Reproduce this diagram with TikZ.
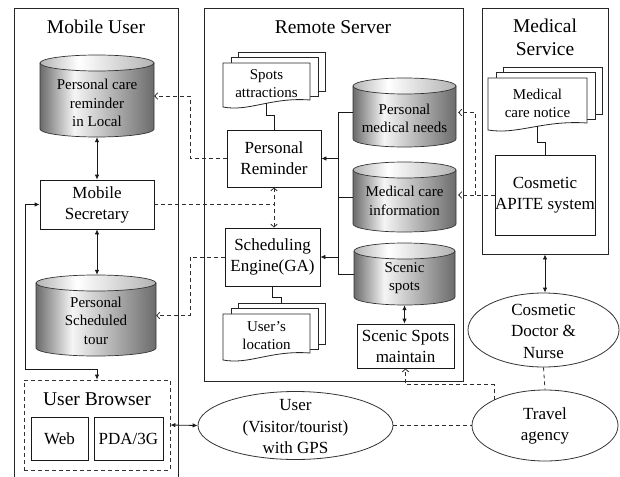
\documentclass[tikz,border=0pt]{standalone}
\usepackage{fontspec}
\setmainfont{Liberation Serif}
\usetikzlibrary{arrows.meta,calc,shapes.geometric}

\pgfdeclarehorizontalshading{cylbody}{100bp}{color(0bp)=(black!58); color(25bp)=(black!58); color(40bp)=(black!4); color(75bp)=(black!58); color(100bp)=(black!58)}
\pgfdeclarehorizontalshading{cyltop}{100bp}{color(0bp)=(black!30); color(25bp)=(black!30); color(42bp)=(white); color(75bp)=(black!30); color(100bp)=(black!30)}

\newcommand\mycyl[7]{%
  \pgfmathsetmacro\mycx{(#2+#3)/2}%
  \pgfmathsetmacro\myrx{(#3-#2)/2}%
  \pgfmathsetmacro\mykx{0.5523*\myrx}%
  \pgfmathsetmacro\myyt{#4+8}%
  \pgfmathsetmacro\myyb{#5-8}%
  \pgfmathsetmacro\mycy{(#4+#5)/2}%
  \pgfmathsetmacro\myww{#3-#2}%
  \pgfmathsetmacro\myhh{#5-#4}%
  \shade[shading=cylbody] (#2,\myyt) -- (#2,\myyb) .. controls (#2,\myyb+4.42) and (\mycx-\mykx,#5) .. (\mycx,#5)
     .. controls (\mycx+\mykx,#5) and (#3,\myyb+4.42) .. (#3,\myyb) -- (#3,\myyt) -- cycle;
  \draw[cylline] (#2,\myyt) -- (#2,\myyb) .. controls (#2,\myyb+4.42) and (\mycx-\mykx,#5) .. (\mycx,#5)
     .. controls (\mycx+\mykx,#5) and (#3,\myyb+4.42) .. (#3,\myyb) -- (#3,\myyt);
  \shadedraw[shading=cyltop, cylline] (\mycx,\myyt) ellipse [x radius=\myrx, y radius=8];
  \node[inner sep=0pt, minimum width=\myww pt, minimum height=\myhh pt] (#1) at (\mycx,\mycy) {};
  \node[cyltext] (#1-t) at (\mycx,\mycy+#6) {#7};
}

\newcommand\mydoc[6]{%
  \pgfmathsetmacro\myxb{#2+#4}%
  \pgfmathsetmacro\myyb{#3+#5}%
  \draw[docline] (#2+15,#3-11) rectangle (\myxb+15,\myyb-16);
  \draw[docline] (#2+8,#3-6) rectangle (\myxb+8,\myyb-11);
  \draw[docline] (#2,#3) -- (#2,\myyb) .. controls (#2+0.3*#4,\myyb+5) and (#2+0.55*#4,\myyb-10) .. (\myxb,\myyb-7) -- (\myxb,#3) -- cycle;
  \coordinate (#1-back) at (#2+15+#4/2,#3-11);
  \node[doctext, minimum width=#4 pt, minimum height=#5 pt] (#1) at (#2+#4/2,#3+#5/2-1) {#6};
}

\begin{document}
\begin{tikzpicture}[x=1pt,y=-1pt,
  frameline/.style={draw=black!85, line width=0.9pt},
  frame/.style={draw=black!85, line width=0.9pt, inner sep=0pt},
  title/.style={inner sep=0pt, align=center, font=\fontsize{19.5}{23}\selectfont},
  box/.style={draw=black!90, line width=0.8pt, fill=white, inner sep=0pt, align=center, font=\fontsize{17}{21}\selectfont},
  dbox/.style={draw=black!80, line width=0.8pt, dash pattern=on 4pt off 3pt, inner sep=0pt},
  cylline/.style={draw=black!80, line width=0.7pt},
  cyltext/.style={inner sep=0pt, align=center, font=\fontsize{15}{18.5}\selectfont},
  docline/.style={draw=black!85, line width=0.8pt, fill=white},
  doctext/.style={inner sep=0pt, align=center, font=\fontsize{15}{18}\selectfont},
  ell/.style={draw=black!80, line width=0.8pt, ellipse, inner sep=0pt},
  elltext/.style={inner sep=0pt, align=center, font=\fontsize{17}{21.5}\selectfont},
  sline/.style={draw=black!90, line width=0.8pt},
  sarr/.style={draw=black!90, line width=0.8pt},
  dline/.style={draw=black!82, line width=0.8pt, dash pattern=on 4pt off 3pt},
  >={Latex[length=5pt,width=4.5pt]},
  barb/.tip={Straight Barb[length=3pt,width=6.5pt]}
]
\useasboundingbox (0,0) rectangle (620,476);

% frames
\draw[frameline] (14,478) -- (14,8) -- (178,8) -- (178,478);
\node[frame, minimum width=259pt, minimum height=373pt] (remote) at (333.5,194.5) {};
\node[frame, minimum width=126pt, minimum height=246pt] (medframe) at (545,131) {};
\node[title] (tmobile) at (96,27) {Mobile User};
\node[title] (tremote) at (333,27) {Remote Server};
\node[title] (tmed) at (545,37) {Medical\\Service};

% cylinders
\mycyl{clocal}{40}{154}{55}{137}{7}{Personal care\\reminder\\in Local}
\mycyl{ctour}{36}{156}{275}{356}{5}{Personal\\Scheduled\\tour}
\mycyl{cneeds}{353}{456}{78}{147}{6}{Personal\\medical needs}
\mycyl{cinfo}{353}{456}{162}{232}{4}{Medical care\\information}
\mycyl{cscenic}{354}{455}{243}{305}{4}{Scenic\\spots}

% documents
\mydoc{spots}{223}{63}{87}{44}{Spots\\attractions}
\mydoc{loc}{223}{314}{87}{46}{User’s\\location}
\mydoc{mnotice}{488}{78}{99}{52}{Medical\\care notice}

% boxes
\node[box, minimum width=114pt, minimum height=49pt] (secretary) at (97,204.5) {Mobile\\Secretary};
\node[box, minimum width=94pt, minimum height=57pt] (remind) at (274,158.5) {Personal\\Reminder};
\node[box, minimum width=95pt, minimum height=58pt] (sched) at (272.5,257) {Scheduling\\Engine(GA)};
\node[box, minimum width=97pt, minimum height=44pt] (maint) at (405.5,346) {Scenic Spots\\maintain};
\node[box, minimum width=100pt, minimum height=80pt] (apite) at (545,195) {Cosmetic\\APITE system};

% user browser
\node[dbox, minimum width=146pt, minimum height=90pt] (browser) at (97,425) {};
\node[title] (tbrowser) at (97,399) {User Browser};
\node[box, minimum width=57pt, minimum height=43pt] (web) at (59.5,438.5) {Web};
\node[box, minimum width=69pt, minimum height=43pt] (pda) at (128.5,438.5) {PDA/3G};

% ellipses
\node[ell, minimum width=195pt, minimum height=68pt] (user) at (295.5,425.5) {};
\node[elltext] (user-t) at (295.5,427) {User\\(Visitor/tourist)\\with GPS};
\node[ell, minimum width=151pt, minimum height=74pt] (cosm) at (543.5,330) {};
\node[elltext] (cosm-t) at (543.5,331) {Cosmetic\\Doctor \&\\Nurse};
\node[ell, minimum width=146pt, minimum height=71pt] (travel) at (545,425.5) {};
\node[elltext] (travel-t) at (545,426) {Travel\\agency};

% solid connectors
\draw[sarr, <->] (clocal.south) -- (secretary.north);
\draw[sarr, <->] (secretary.south) -- (secretary.south |- ctour.north);
\coordinate (bk) at (97,369);
\draw[sarr, <->] (secretary.west) -- ++(-14,0) |- (bk) -- (browser.north);
\draw[sarr, <->] (browser.east) -- (user.west);
\coordinate (bus) at (338,0);
\draw[sline] (cneeds.west) -- (cneeds.west -| bus) -- (cscenic.west -| bus) -- (cscenic.west);
\draw[sline] (cinfo.west -| bus) -- (cinfo.west);
\draw[sarr, ->] (remind.east -| bus) -- (remind.east);
\draw[sarr, ->] (sched.east -| bus) -- (sched.east);
\draw[sarr, <->] (cscenic.south) -- (cscenic.south |- maint.north);
\draw[sarr, <->] (medframe.south) -- (medframe.south |- cosm.north);
\draw[sline] ([yshift=3pt]spots.south) -- ++(0,12) -| (remind.north);
\draw[sline] ([yshift=3pt]mnotice.south) -- ++(0,16) -| (apite.north);
\draw[sline] (sched.south) -- ++(0,11) -| (loc-back);

% dashed connectors
\coordinate (dl1) at (190,0);
\draw[dline, -barb] (remind.west) -| (clocal.east -| dl1) -- (clocal.east);
\draw[dline, -barb] (sched.west) -| (ctour.east -| dl1) -- (ctour.east);
\draw[dline, barb-barb] (remind.south) -- (remind.south |- sched.north);
\draw[dline] (secretary.east) -- (secretary.east -| remind.south);
\coordinate (dl2) at (475,0);
\draw[dline, -barb] (apite.west) -- ([xshift=2pt]apite.west -| cinfo.east);
\draw[dline, -barb] (apite.west -| dl2) |- ([xshift=2pt]cneeds.east);
\draw[dline] (user.east) -- (user.east -| travel.west);
\draw[dline] (cosm.south) -- (travel.north);
\draw[dline, -barb] (travel.153) -- ++(0,-15) -| (maint.south);
\end{tikzpicture}
\end{document}
